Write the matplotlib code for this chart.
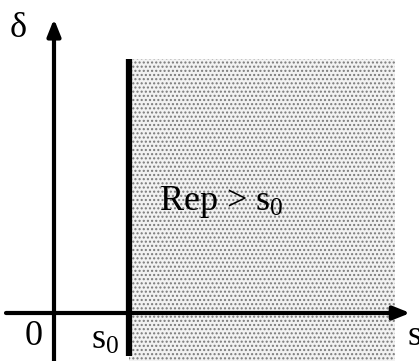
import matplotlib
matplotlib.use("Agg")
import matplotlib.pyplot as plt
from matplotlib.patches import Rectangle

plt.rcParams['font.family'] = ['Liberation Serif', 'DejaVu Serif']
plt.rcParams['mathtext.fontset'] = 'custom'
plt.rcParams['mathtext.rm'] = 'Liberation Serif'
plt.rcParams['mathtext.it'] = 'Liberation Serif:italic'
plt.rcParams['hatch.linewidth'] = 1.0

# threshold and region extents (axis units)
s0 = 1.0
s_axis = [-0.64, 4.75]
d_axis = [-0.64, 3.92]
region_s = [s0, 4.547]
region_d = [-0.7, 3.387]

fig = plt.figure(figsize=(4.19, 3.61), dpi=100)
ax = fig.add_axes([0, 0, 1, 1])
ax.set_xlim(-0.72, 4.867)
ax.set_ylim(-0.64, 4.173)
ax.axis('off')

# shaded region (dotted fill)
ax.add_patch(Rectangle((region_s[0], region_d[0]), region_s[1] - region_s[0],
                       region_d[1] - region_d[0], facecolor='#f2f2f2',
                       edgecolor='#7a7a7a', linewidth=0, hatch='....', zorder=1))

# thick boundary at s0
ax.plot([s0, s0], [-0.57, region_d[1]], color='black', lw=4.5, solid_capstyle='butt', zorder=3)

# axes with arrows
arrow = dict(arrowstyle='-|>,head_length=1.0,head_width=0.4',
             color='black', lw=3, shrinkA=0, shrinkB=0)
ax.annotate('', xy=(s_axis[1], 0), xytext=(s_axis[0], 0), arrowprops=arrow, zorder=4)
ax.annotate('', xy=(0, d_axis[1]), xytext=(0, d_axis[0]), arrowprops=arrow, zorder=4)

fs = 26
ax.text(-0.48, 3.79, 'δ', fontsize=fs, ha='center', va='center')
ax.text(-0.27, -0.31, '0', fontsize=fs, ha='center', va='center')
ax.text(0.68, -0.36, r'$\mathrm{s}_0$', fontsize=fs, ha='center', va='center')
ax.text(4.72, -0.32, 's', fontsize=fs, ha='left', va='center')
ax.text(1.4, 1.373, r'Rep > $\mathrm{s}_0$', fontsize=fs, ha='left', va='baseline')

fig.savefig('out.png', dpi=100)
